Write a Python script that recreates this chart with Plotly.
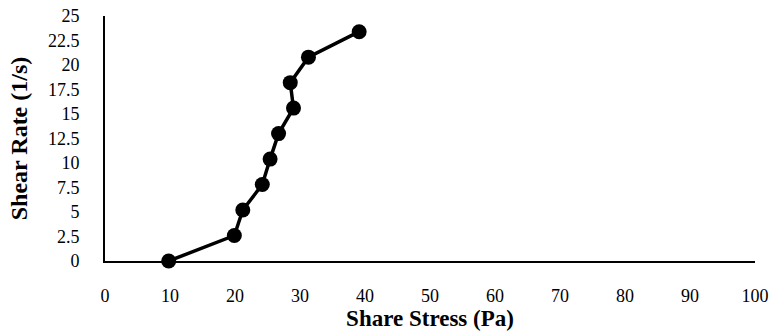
import plotly.graph_objects as go

share_stress = [9.8, 19.9, 21.2, 24.2, 25.4, 26.7, 29.0, 28.5, 31.3, 39.1]
shear_rate = [0, 2.6, 5.2, 7.8, 10.4, 13.0, 15.6, 18.2, 20.8, 23.4]
x_ticks = list(range(0, 101, 10))
y_ticks = [0, 2.5, 5, 7.5, 10, 12.5, 15, 17.5, 20, 22.5, 25]

fig = go.Figure()
fig.add_trace(go.Scatter(
    x=share_stress, y=shear_rate, mode="lines+markers",
    line=dict(color="black", width=3.5),
    marker=dict(color="black", size=15),
    showlegend=False, cliponaxis=False,
))

font = "Liberation Serif"
fig.update_layout(
    width=776, height=336,
    margin=dict(l=105, r=21, t=16, b=75),
    paper_bgcolor="white", plot_bgcolor="white",
    font=dict(family=font, size=18, color="black"),
)
fig.update_xaxes(
    range=[0, 100], tickvals=x_ticks, ticktext=[str(v) for v in x_ticks],
    tickfont=dict(family=font, size=18, color="black"),
    showgrid=False, zeroline=False, showline=True, linecolor="black", linewidth=2,
    ticks="", ticklabelstandoff=17, automargin=False, ticklabeloverflow="allow",
    title=dict(text="<b>Share Stress (Pa)</b>", font=dict(size=23, family=font, color="black"), standoff=4),
)
fig.update_yaxes(
    range=[0, 25], tickvals=y_ticks, ticktext=[str(v) for v in y_ticks],
    tickfont=dict(family=font, size=18, color="black"),
    showgrid=False, zeroline=False, showline=True, linecolor="black", linewidth=2,
    ticks="", ticklabelstandoff=20, automargin=False, ticklabeloverflow="allow",
    title=dict(text="<b>Shear Rate (1/s)</b>", font=dict(size=24, family=font, color="black"), standoff=14),
)
fig.write_html(
    "out.html",
    config={"displayModeBar": False},
    post_script="document.body.style.margin='0';document.body.style.overflow='hidden';",
)
